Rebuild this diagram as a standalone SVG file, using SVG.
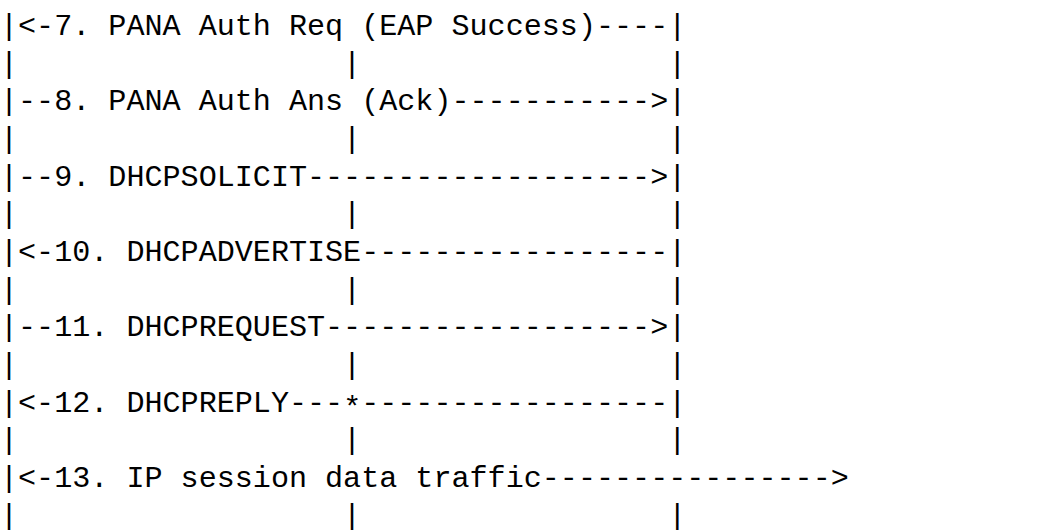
<svg xmlns="http://www.w3.org/2000/svg" width="1046" height="530" viewBox="0 0 1046 530">
<style>
text{font-family:"Liberation Mono","DejaVu Sans Mono",monospace;font-size:30.1px;fill:#000;white-space:pre}
</style>
<rect width="1046" height="530" fill="#fff"/>
<g id="art" xml:space="preserve">
<text x="0" y="35">|&lt;-7. PANA Auth Req (EAP Success)----|</text>
<text x="0" y="72.7">|                  |                 |</text>
<text x="0" y="110.3">|--8. PANA Auth Ans (Ack)-----------&gt;|</text>
<text x="0" y="148">|                  |                 |</text>
<text x="0" y="185.7">|--9. DHCPSOLICIT-------------------&gt;|</text>
<text x="0" y="223.3">|                  |                 |</text>
<text x="0" y="261">|&lt;-10. DHCPADVERTISE-----------------|</text>
<text x="0" y="298.7">|                  |                 |</text>
<text x="0" y="336.3">|--11. DHCPREQUEST------------------&gt;|</text>
<text x="0" y="374">|                  |                 |</text>
<text x="0" y="411.7">|&lt;-12. DHCPREPLY---<tspan dy="5">*</tspan><tspan dy="-5">-----------------|</tspan></text>
<text x="0" y="449.3">|                  |                 |</text>
<text x="0" y="487">|&lt;-13. IP session data traffic----------------&gt;</text>
<text x="0" y="524.7">|                  |                 |</text>
</g>
</svg>
